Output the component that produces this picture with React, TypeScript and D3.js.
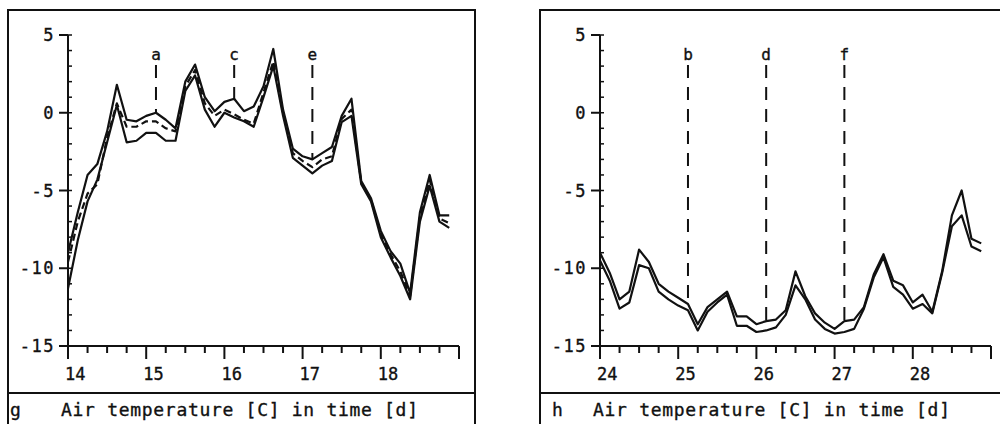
import React from "react";
import * as d3 from "d3";

// sampling: every 3 hours (0.125 d)
const STEP = 0.125;

// panel g: days 14 .. 18.875
const gStart = 14;
const gUpper = [-9.0, -6.4, -4.0, -3.3, -1.2, 1.8, -0.45, -0.55, -0.2, 0.0, -0.45, -1.0, 2.0, 3.1, 1.0, 0.1, 0.7, 0.9, 0.1, 0.4, 1.7, 4.1, 0.2, -2.3, -2.8, -3.0, -2.6, -2.2, -0.2, 0.9, -4.4, -5.5, -7.6, -8.9, -9.7, -11.6, -6.4, -4.0, -6.6, -6.6];
const gMiddle = [-9.6, -7.0, -5.2, -4.6, -1.6, 0.6, -0.9, -0.9, -0.55, -0.55, -1.0, -1.2, 1.7, 2.75, 0.6, -0.2, 0.2, -0.1, -0.45, -0.7, 1.3, 3.3, 0.0, -2.6, -3.1, -3.5, -3.0, -2.8, -0.4, 0.2, -4.5, -5.6, -7.8, -9.1, -10.2, -11.8, -6.7, -4.3, -6.8, -7.1];
const gLower = [-11.3, -8.2, -5.7, -4.3, -1.9, 0.5, -1.9, -1.8, -1.3, -1.3, -1.8, -1.8, 1.4, 2.4, 0.2, -0.9, 0.0, -0.3, -0.55, -0.9, 1.0, 3.0, -0.2, -2.9, -3.4, -3.9, -3.4, -3.1, -0.6, -0.2, -4.6, -5.7, -8.0, -9.3, -10.5, -12.0, -7.0, -4.7, -7.0, -7.4];
const gMarkers = [
  { label: "a", day: 15.125 },
  { label: "c", day: 16.125 },
  { label: "e", day: 17.125 },
];

// panel h: days 24 .. 28.875
const hStart = 24;
const hUpper = [-9.0, -10.3, -12.0, -11.5, -8.8, -9.6, -11.0, -11.5, -11.9, -12.3, -13.6, -12.5, -12.0, -11.5, -13.1, -13.1, -13.6, -13.4, -13.3, -12.7, -10.2, -11.8, -12.9, -13.5, -13.9, -13.4, -13.3, -12.5, -10.4, -9.1, -10.8, -11.1, -12.2, -11.7, -12.8, -10.2, -6.6, -5.0, -8.1, -8.4];
const hLower = [-9.5, -10.8, -12.6, -12.2, -9.8, -10.0, -11.5, -12.0, -12.4, -12.7, -14.0, -12.8, -12.2, -11.7, -13.7, -13.7, -14.1, -14.0, -13.8, -13.0, -11.1, -12.0, -13.3, -13.9, -14.2, -14.1, -13.9, -12.6, -10.6, -9.3, -11.2, -11.7, -12.6, -12.3, -12.9, -10.3, -7.3, -6.6, -8.6, -8.9];
const hMarkers = [
  { label: "b", day: 25.125 },
  { label: "d", day: 26.125 },
  { label: "f", day: 27.125 },
];

const yTickValues = [5, 0, -5, -10, -15];
const caption = "Air temperature [C] in time [d]";

const FONT = '"DejaVu Sans Mono", "Liberation Mono", monospace';
const INK = "#111";

type Series = { values: number[]; dashed?: boolean };
type Marker = { label: string; day: number };

function Panel({ left, letter, letterDx, start, series, markers }: {
  left: number; letter: string; letterDx: number; start: number; series: Series[]; markers: Marker[];
}) {
  const axisX = left + 60;
  const x = d3.scaleLinear().domain([start, start + 5]).range([axisX, axisX + 391]);
  const y = d3.scaleLinear().domain([-15, 5]).range([346, 35]);

  const line = d3.line<number>()
    .x((_, i) => x(start + i * STEP))
    .y(d => y(d));

  const minorY = d3.range(-15, 6, 1);
  const xTicks = d3.range(0, 21).map(i => start + i * 0.25);
  const textStyle = { fontFamily: FONT, fill: INK, stroke: INK, strokeWidth: 0.35 };

  return (
    <g>
      {/* frame + caption box */}
      <rect x={left} y={10} width={467} height={430} fill="none" stroke={INK} strokeWidth={2} />
      <line x1={left} x2={left + 467} y1={393} y2={393} stroke={INK} strokeWidth={2} />
      <text x={left + letterDx} y={416} fontSize={18} style={textStyle}>{letter}</text>
      <text x={left + 53} y={416} fontSize={18} style={textStyle}
        textLength={357} lengthAdjust="spacing">{caption}</text>

      {/* y axis */}
      <line x1={axisX} x2={axisX} y1={y(5)} y2={y(-15)} stroke={INK} strokeWidth={2} />
      {minorY.map(v => (
        <line key={"my" + v} x1={axisX} x2={axisX + 4} y1={y(v)} y2={y(v)} stroke={INK} strokeWidth={1.5} />
      ))}
      {yTickValues.map(v => (
        <g key={"y" + v}>
          <line x1={axisX - 9} x2={axisX} y1={y(v)} y2={y(v)} stroke={INK} strokeWidth={2} />
          <text x={axisX - 13} y={y(v) + 6} textAnchor="end" fontSize={17} letterSpacing={1.5} style={textStyle}>{v}</text>
        </g>
      ))}

      {/* x axis */}
      <line x1={axisX} x2={x(start + 5)} y1={y(-15)} y2={y(-15)} stroke={INK} strokeWidth={2} />
      {xTicks.map((d, i) => {
        const major = i % 4 === 0;
        return (
          <g key={"x" + i}>
            <line x1={x(d)} x2={x(d)} y1={y(-15)} y2={y(-15) + (major ? 13 : 7)} stroke={INK} strokeWidth={2} />
            {major && i < 20 && (
              <text x={x(d) - 3} y={380} fontSize={17} style={textStyle}>{d}</text>
            )}
          </g>
        );
      })}

      {/* series */}
      {series.map((s, i) => (
        <path key={"s" + i} d={line(s.values) || ""} fill="none" stroke={INK}
          strokeWidth={2.2} strokeLinejoin="round" strokeDasharray={s.dashed ? "7 4" : undefined} />
      ))}

      {/* event markers */}
      {markers.map(m => {
        const idx = Math.round((m.day - start) / STEP);
        const top = d3.max(series, s => s.values[idx]) as number;
        return (
          <g key={m.label}>
            <text x={x(m.day)} y={60} textAnchor="middle" fontSize={16} style={textStyle}>{m.label}</text>
            <line x1={x(m.day)} x2={x(m.day)} y1={65} y2={y(top)} stroke={INK} strokeWidth={2} strokeDasharray="13 9" />
          </g>
        );
      })}
    </g>
  );
}

export default function App() {
  return (
    <svg width={1000} height={424} style={{ position: "absolute", left: 0, top: 0, background: "#fff" }}>
      <rect width={1000} height={424} fill="#fff" />
      <Panel left={8} letter="g" letterDx={2} start={gStart}
        series={[{ values: gUpper }, { values: gMiddle, dashed: true }, { values: gLower }]}
        markers={gMarkers} />
      <Panel left={540} letter="h" letterDx={12} start={hStart}
        series={[{ values: hUpper }, { values: hLower }]}
        markers={hMarkers} />
    </svg>
  );
}
